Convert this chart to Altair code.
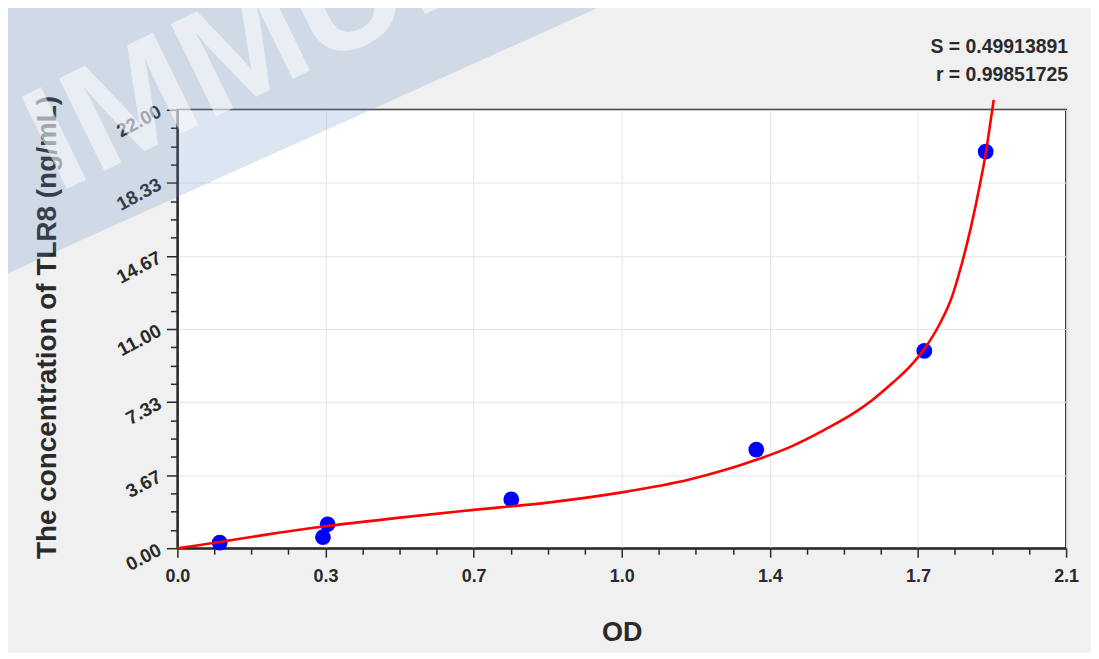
import altair as alt
import pandas as pd

# ---- data ----
od_points = [0.100, 0.344, 0.355, 0.789, 1.368, 1.765, 1.910]
conc_points = [0.28, 0.55, 1.20, 2.45, 4.95, 9.90, 19.90]

curve_od = [0.0, 0.05, 0.10, 0.21, 0.35, 0.52, 0.68, 0.88, 1.05, 1.21, 1.37, 1.45,
            1.53, 1.60, 1.64, 1.69, 1.73, 1.765, 1.80, 1.83, 1.85, 1.875, 1.895,
            1.91, 1.92, 1.929]
curve_conc = [0.0, 0.15, 0.31, 0.68, 1.10, 1.52, 1.88, 2.30, 2.80, 3.45, 4.45, 5.10,
              5.95, 6.80, 7.40, 8.30, 9.10, 10.00, 11.20, 12.60, 14.00, 16.10, 18.10,
              19.80, 21.20, 22.50]

x_ticks = [0.0, 0.35, 0.70, 1.05, 1.40, 1.75, 2.10]
x_tick_labels = ["0.0", "0.3", "0.7", "1.0", "1.4", "1.7", "2.1"]
y_ticks = [0.0, 3.6667, 7.3333, 11.0, 14.6667, 18.3333, 22.0]
y_tick_labels = ["0.00", "3.67", "7.33", "11.00", "14.67", "18.33", "22.00"]

stats_text = ["S = 0.49913891", "r = 0.99851725"]
x_title = "OD"
y_title = "The concentration of TLR8 (ng/mL)"
watermark_text = "IMMUNO"

# ---- helpers ----
def minor(ticks, sub=4):
    out = []
    for a, b in zip(ticks[:-1], ticks[1:]):
        for k in range(sub):
            out.append(a + (b - a) * k / sub)
    out.append(ticks[-1])
    return out

def label_expr(ticks, labels):
    e = "''"
    for t, l in reversed(list(zip(ticks, labels))):
        e = f"abs(datum.value-{t})<0.002 ? '{l}' : ({e})"
    return e

def major_test(ticks):
    return " || ".join(f"abs(datum.value-{t})<0.002" for t in ticks)

FONT = "Liberation Sans"
DARK = "#2a2a2a"

x_axis = alt.Axis(
    values=minor(x_ticks), labelExpr=label_expr(x_ticks, x_tick_labels),
    labelOverlap=False, labelFlush=False, labelBound=False,
    labelFont=FONT, labelFontSize=18, labelFontWeight="bold", labelColor=DARK,
    labelPadding=10,
    tickColor=DARK, tickWidth=1.5,
    tickSize={"condition": {"test": major_test(x_ticks), "value": 9}, "value": 6},
    grid=True, gridColor="#e4e4e4", gridWidth=1,
    gridOpacity={"condition": {"test": major_test(x_ticks), "value": 1}, "value": 0},
    domainColor=DARK, domainWidth=2,
    title=x_title, titleFont=FONT, titleFontSize=27, titleFontWeight="bold",
    titleColor=DARK, titleX=446, titleY=85, titleAlign="center",
    titleBaseline="middle",
)
y_axis = alt.Axis(
    values=minor(y_ticks), labelExpr=label_expr(y_ticks, y_tick_labels),
    labelOverlap=False, labelFlush=False, labelBound=False,
    labelFont=FONT, labelFontSize=19, labelFontWeight="bold", labelColor=DARK,
    labelAngle=332, labelAlign="right", labelBaseline="middle", labelPadding=7,
    tickColor=DARK, tickWidth=1.5,
    tickSize={"condition": {"test": major_test(y_ticks), "value": 11}, "value": 7},
    grid=True, gridColor="#e4e4e4", gridWidth=1,
    gridOpacity={"condition": {"test": major_test(y_ticks), "value": 1}, "value": 0},
    domainColor=DARK, domainWidth=2,
    title=y_title, titleFont=FONT, titleFontSize=28, titleFontWeight="bold",
    titleColor=DARK, titleX=-130, titleY=218, titleAngle=270,
    titleAlign="center", titleBaseline="middle",
)

x_enc = alt.X("od:Q", scale=alt.Scale(domain=[0, 2.1], nice=False, zero=False), axis=x_axis)
y_enc = alt.Y("conc:Q", scale=alt.Scale(domain=[0, 22], nice=False, zero=False), axis=y_axis)

pts_df = pd.DataFrame({"od": od_points, "conc": conc_points})
curve_df = pd.DataFrame({"od": curve_od, "conc": curve_conc})

points = alt.Chart(pts_df).mark_circle(size=250, color="#0000ff", opacity=1).encode(x=x_enc, y=y_enc)
curve = alt.Chart(curve_df).mark_line(color="#ff0000", strokeWidth=2.6, interpolate="monotone").encode(
    x=x_enc, y=y_enc)

# statistics text, one row per entry
stats = alt.layer(*[
    alt.Chart(pd.DataFrame({"t": [s]})).mark_text(
        align="right", baseline="middle", font=FONT, fontSize=19.5, fontWeight="bold", color=DARK
    ).encode(x=alt.value(894), y=alt.value(-63 + 28 * i), text="t:N")
    for i, s in enumerate(stats_text)
])

# watermark (decoration)
band = alt.Chart(pd.DataFrame({"k": [0]})).mark_rule(
    color="#5f8cc8", opacity=0.22, strokeWidth=350, strokeCap="butt"
).encode(x=alt.value(-372), y=alt.value(63), x2=alt.value(628), y2=alt.value(-387))
wm = alt.Chart(pd.DataFrame({"t": [watermark_text]})).mark_text(
    align="left", baseline="alphabetic", angle=334, font=FONT, fontSize=150,
    fontWeight="bold", color="white", opacity=0.55
).encode(x=alt.value(-120), y=alt.value(84), text="t:N")

chart = alt.layer(points, curve, band, wm, stats).properties(
    width=892, height=440,
    autosize=alt.AutoSizeParams(type="none"),
    padding={"left": 170, "top": 101, "right": 25, "bottom": 104},
    background="#f0f0f0",
).configure_view(fill="white", stroke=DARK, strokeWidth=2)

chart.save("out.html", embed_options={"renderer": "svg", "actions": False})
